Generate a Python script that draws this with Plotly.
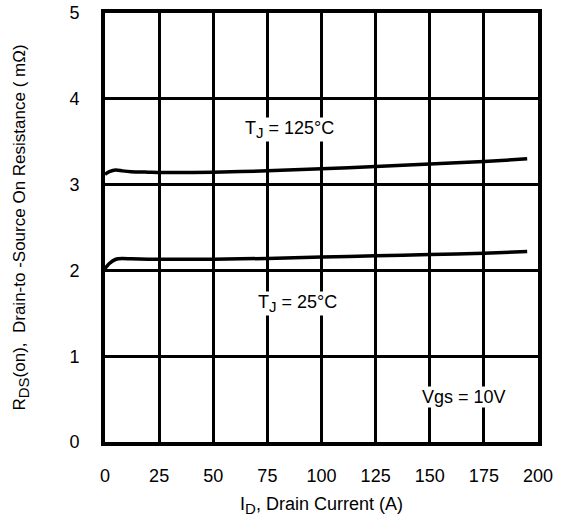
import plotly.graph_objects as go

# Data
id_current = [0, 2, 5, 8, 12, 20, 30, 50, 75, 100, 125, 150, 175, 195]
rds_125 = [3.12, 3.15, 3.17, 3.16, 3.15, 3.145, 3.14, 3.145, 3.16, 3.185, 3.21, 3.24, 3.27, 3.30]
rds_25 = [2.02, 2.08, 2.13, 2.14, 2.135, 2.13, 2.13, 2.13, 2.14, 2.155, 2.17, 2.185, 2.20, 2.22]

x_ticks = [0, 25, 50, 75, 100, 125, 150, 175, 200]
y_ticks = [0, 1, 2, 3, 4, 5]

font = "Liberation Sans, Arial, sans-serif"
FS = 18


def sub(s):
    return "<sub><span style='font-size:15px'>" + s + "</span></sub>"


fig = go.Figure()
for ys in (rds_125, rds_25):
    fig.add_trace(go.Scatter(x=id_current, y=ys, mode="lines",
                             line=dict(color="black", width=3.5, shape="spline", smoothing=0.6),
                             showlegend=False, hoverinfo="skip"))

fig.update_xaxes(range=[0, 200], tickvals=x_ticks, ticks="", showgrid=True,
                 gridcolor="black", gridwidth=2.5, showline=True, linecolor="black",
                 linewidth=4, mirror=True, zeroline=False, ticklabelstandoff=14,
                 automargin=False,
                 tickfont=dict(family=font, size=FS, color="black"),
                 title=dict(text="I" + sub("D") + ", Drain Current (A)",
                            font=dict(family=font, size=FS, color="black"), standoff=14))
fig.update_yaxes(range=[0, 5], tickvals=y_ticks, ticks="", showgrid=True,
                 gridcolor="black", gridwidth=2.5, showline=True, linecolor="black",
                 linewidth=4, mirror=True, zeroline=False, ticklabelstandoff=18,
                 automargin=False,
                 tickfont=dict(family=font, size=FS, color="black"),
                 title=dict(text="R" + sub("DS") + "(on),  Drain-to -Source On Resistance ( mΩ)",
                            font=dict(family=font, size=17, color="black"), standoff=40))

ann_font = dict(family=font, size=FS, color="black")
fig.add_annotation(x=85, y=3.64, text="T" + sub("J") + " = 125°C", showarrow=False,
                   font=ann_font, bgcolor="white", borderpad=0)
fig.add_annotation(x=89, y=1.62, text="T" + sub("J") + " = 25°C", showarrow=False,
                   font=ann_font, bgcolor="white", borderpad=0)
fig.add_annotation(x=166, y=0.52, text="Vgs = 10V", showarrow=False,
                   font=ann_font, bgcolor="white", borderpad=0)

fig.update_layout(width=563, height=529, margin=dict(l=105, r=25, t=13, b=87),
                  paper_bgcolor="white", plot_bgcolor="white")
fig.write_html("out.html")
